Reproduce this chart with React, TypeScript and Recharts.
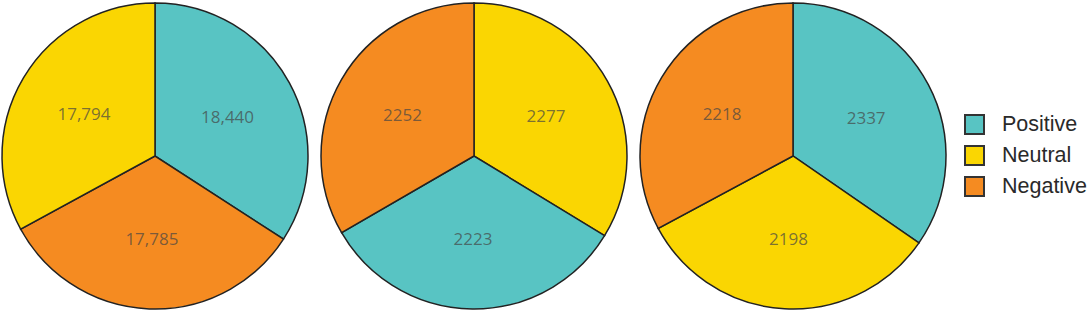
import React from 'react';
import { PieChart, Pie, Cell, Legend } from 'recharts';

// sentiment categories and colours
const sentiments = ['Positive', 'Neutral', 'Negative'];
const sentimentColors = { Positive: '#58C4C3', Neutral: '#FAD602', Negative: '#F58B21' };

// slice order (clockwise from 12 o'clock) and counts per pie
const pie1Names = ['Positive', 'Negative', 'Neutral'];
const pie1Values = [18440, 17785, 17794];

const pie2Names = ['Neutral', 'Positive', 'Negative'];
const pie2Values = [2277, 2223, 2252];

const pie3Names = ['Positive', 'Neutral', 'Negative'];
const pie3Values = [2337, 2198, 2218];

const toRows = (names: string[], values: number[]) => names.map((name, i) => ({ name, value: values[i] }));

const pies = [
    { id: 'p1', cx: 155, data: toRows(pie1Names, pie1Values) },
    { id: 'p2', cx: 474, data: toRows(pie2Names, pie2Values) },
    { id: 'p3', cx: 793, data: toRows(pie3Names, pie3Values) },
];

const fmt = (v: number) => (v >= 10000 ? v.toLocaleString('en-US') : String(v));

const RAD = Math.PI / 180;
const renderLabel = (props: any) => {
    const { cx, cy, midAngle, outerRadius, value } = props;
    const r = outerRadius * 0.54;
    const x = cx + r * Math.cos(-midAngle * RAD);
    const y = cy + r * Math.sin(-midAngle * RAD);
    return (
        <text x={x} y={y} textAnchor="middle" dominantBaseline="central" fill="#444" fillOpacity={0.7}
            style={{ fontFamily: '"Open Sans", sans-serif', fontSize: 17 }}>
            {fmt(value)}
        </text>
    );
};

const renderLegend = () => (
    <div style={{ fontFamily: '"Liberation Sans", Arial, sans-serif', fontSize: 21.5, color: '#2a2a2a' }}>
        {sentiments.map((s) => (
            <div key={s} style={{ display: 'flex', alignItems: 'center', height: 31 }}>
                <span style={{ display: 'inline-block', width: 17, height: 17, background: sentimentColors[s], border: '2.5px solid #333', marginRight: 17 }} />
                <span>{s}</span>
            </div>
        ))}
    </div>
);

export default function App() {
    return (
        <div style={{ position: 'absolute', left: 0, top: 0, width: 1090, height: 313, background: '#fff' }}>
            <PieChart width={1090} height={313} margin={{ top: 0, right: 0, bottom: 0, left: 0 }}>
                {pies.map((p) => (
                    <Pie key={p.id} data={p.data} dataKey="value" nameKey="name" cx={p.cx} cy={156} outerRadius={153}
                        startAngle={90} endAngle={-270} label={renderLabel} labelLine={false} isAnimationActive={false}>
                        {p.data.map((d) => (
                            <Cell key={d.name} fill={sentimentColors[d.name]} stroke="#222" strokeWidth={1.5} />
                        ))}
                    </Pie>
                ))}
                <Legend content={renderLegend} wrapperStyle={{ position: 'absolute', left: 964, top: 109, width: 126 }} />
            </PieChart>
        </div>
    );
}
